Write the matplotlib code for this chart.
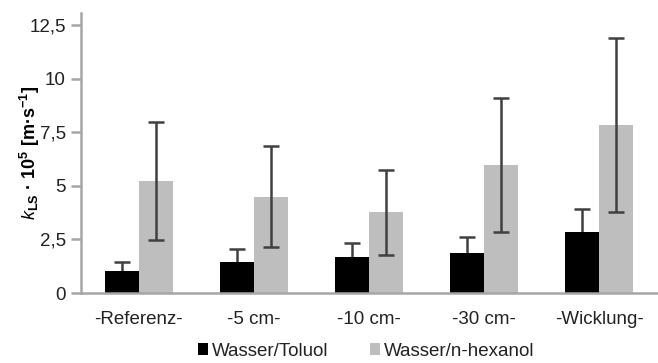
import matplotlib
matplotlib.use("Agg")
import matplotlib.pyplot as plt
import numpy as np

plt.rcParams["font.family"] = ["Liberation Sans", "DejaVu Sans"]
plt.rcParams["mathtext.fontset"] = "custom"
plt.rcParams["mathtext.rm"] = "Liberation Sans:bold"
plt.rcParams["mathtext.it"] = "Liberation Sans:italic"
plt.rcParams["mathtext.bf"] = "Liberation Sans:bold"

categories = ["-Referenz-", "-5 cm-", "-10 cm-", "-30 cm-", "-Wicklung-"]
toluol = [1.04, 1.43, 1.67, 1.85, 2.83]
toluol_err = [0.42, 0.61, 0.66, 0.75, 1.10]
hexanol = [5.24, 4.49, 3.76, 5.96, 7.82]
hexanol_err = [2.75, 2.36, 1.97, 3.12, 4.06]
yticks = [0, 2.5, 5, 7.5, 10, 12.5]
ytick_labels = ["0", "2,5", "5", "7,5", "10", "12,5"]

fig = plt.figure(figsize=(6.58, 3.63), dpi=100)
ax = fig.add_axes([81 / 658, 1 - 293 / 363, 576 / 658, 280 / 363])

x = np.arange(len(categories))
w = 0.295
err_kw = dict(ecolor="#404040", elinewidth=1.8, capsize=6, capthick=1.8)

# Toluol whiskers go behind the black bars, so only the upper half shows
ax.errorbar(x - w / 2, toluol, yerr=toluol_err, fmt="none", zorder=1, **err_kw)
ax.bar(x - w / 2, toluol, w, color="black", label="Wasser/Toluol", zorder=2)
ax.bar(x + w / 2, hexanol, w, color="#BEBEBE", label="Wasser/n-hexanol",
       zorder=2)
ax.errorbar(x + w / 2, hexanol, yerr=hexanol_err, fmt="none", zorder=3,
            **err_kw)

ax.set_xlim(-0.5, len(categories) - 0.5)
ax.set_ylim(0, 13.06)
ax.set_yticks(yticks)
ax.set_yticklabels(ytick_labels)
ax.set_xticks(x)
ax.set_xticklabels(categories)

for s in ["top", "right"]:
    ax.spines[s].set_visible(False)
for s in ["left", "bottom"]:
    ax.spines[s].set_color("#A6A6A6")
    ax.spines[s].set_linewidth(1.8)
    ax.spines[s].set_zorder(4)
ax.tick_params(axis="y", length=7, width=1.8, color="#A6A6A6",
               labelsize=13.5, labelcolor="#222222", pad=4)
ax.tick_params(axis="x", length=0, labelsize=13.5, labelcolor="#222222", pad=13)

ax.set_ylabel(r"$k_{\mathrm{LS}}$ · 10$^{5}$ [m·s$^{\mathrm{-1}}$]",
              fontsize=13, fontweight="bold")
ax.yaxis.set_label_coords(-0.068, 0.5)

handles, labels = ax.get_legend_handles_labels()
leg = fig.legend(handles, labels, loc="center",
                 bbox_to_anchor=(366 / 658, 1 - 351 / 363),
                 ncol=2, frameon=False, fontsize=13.5, handlelength=0.55,
                 handleheight=0.55, handletextpad=0.2, columnspacing=2.2)
for t in leg.get_texts():
    t.set_color("#222222")

fig.savefig("out.png", dpi=100)
